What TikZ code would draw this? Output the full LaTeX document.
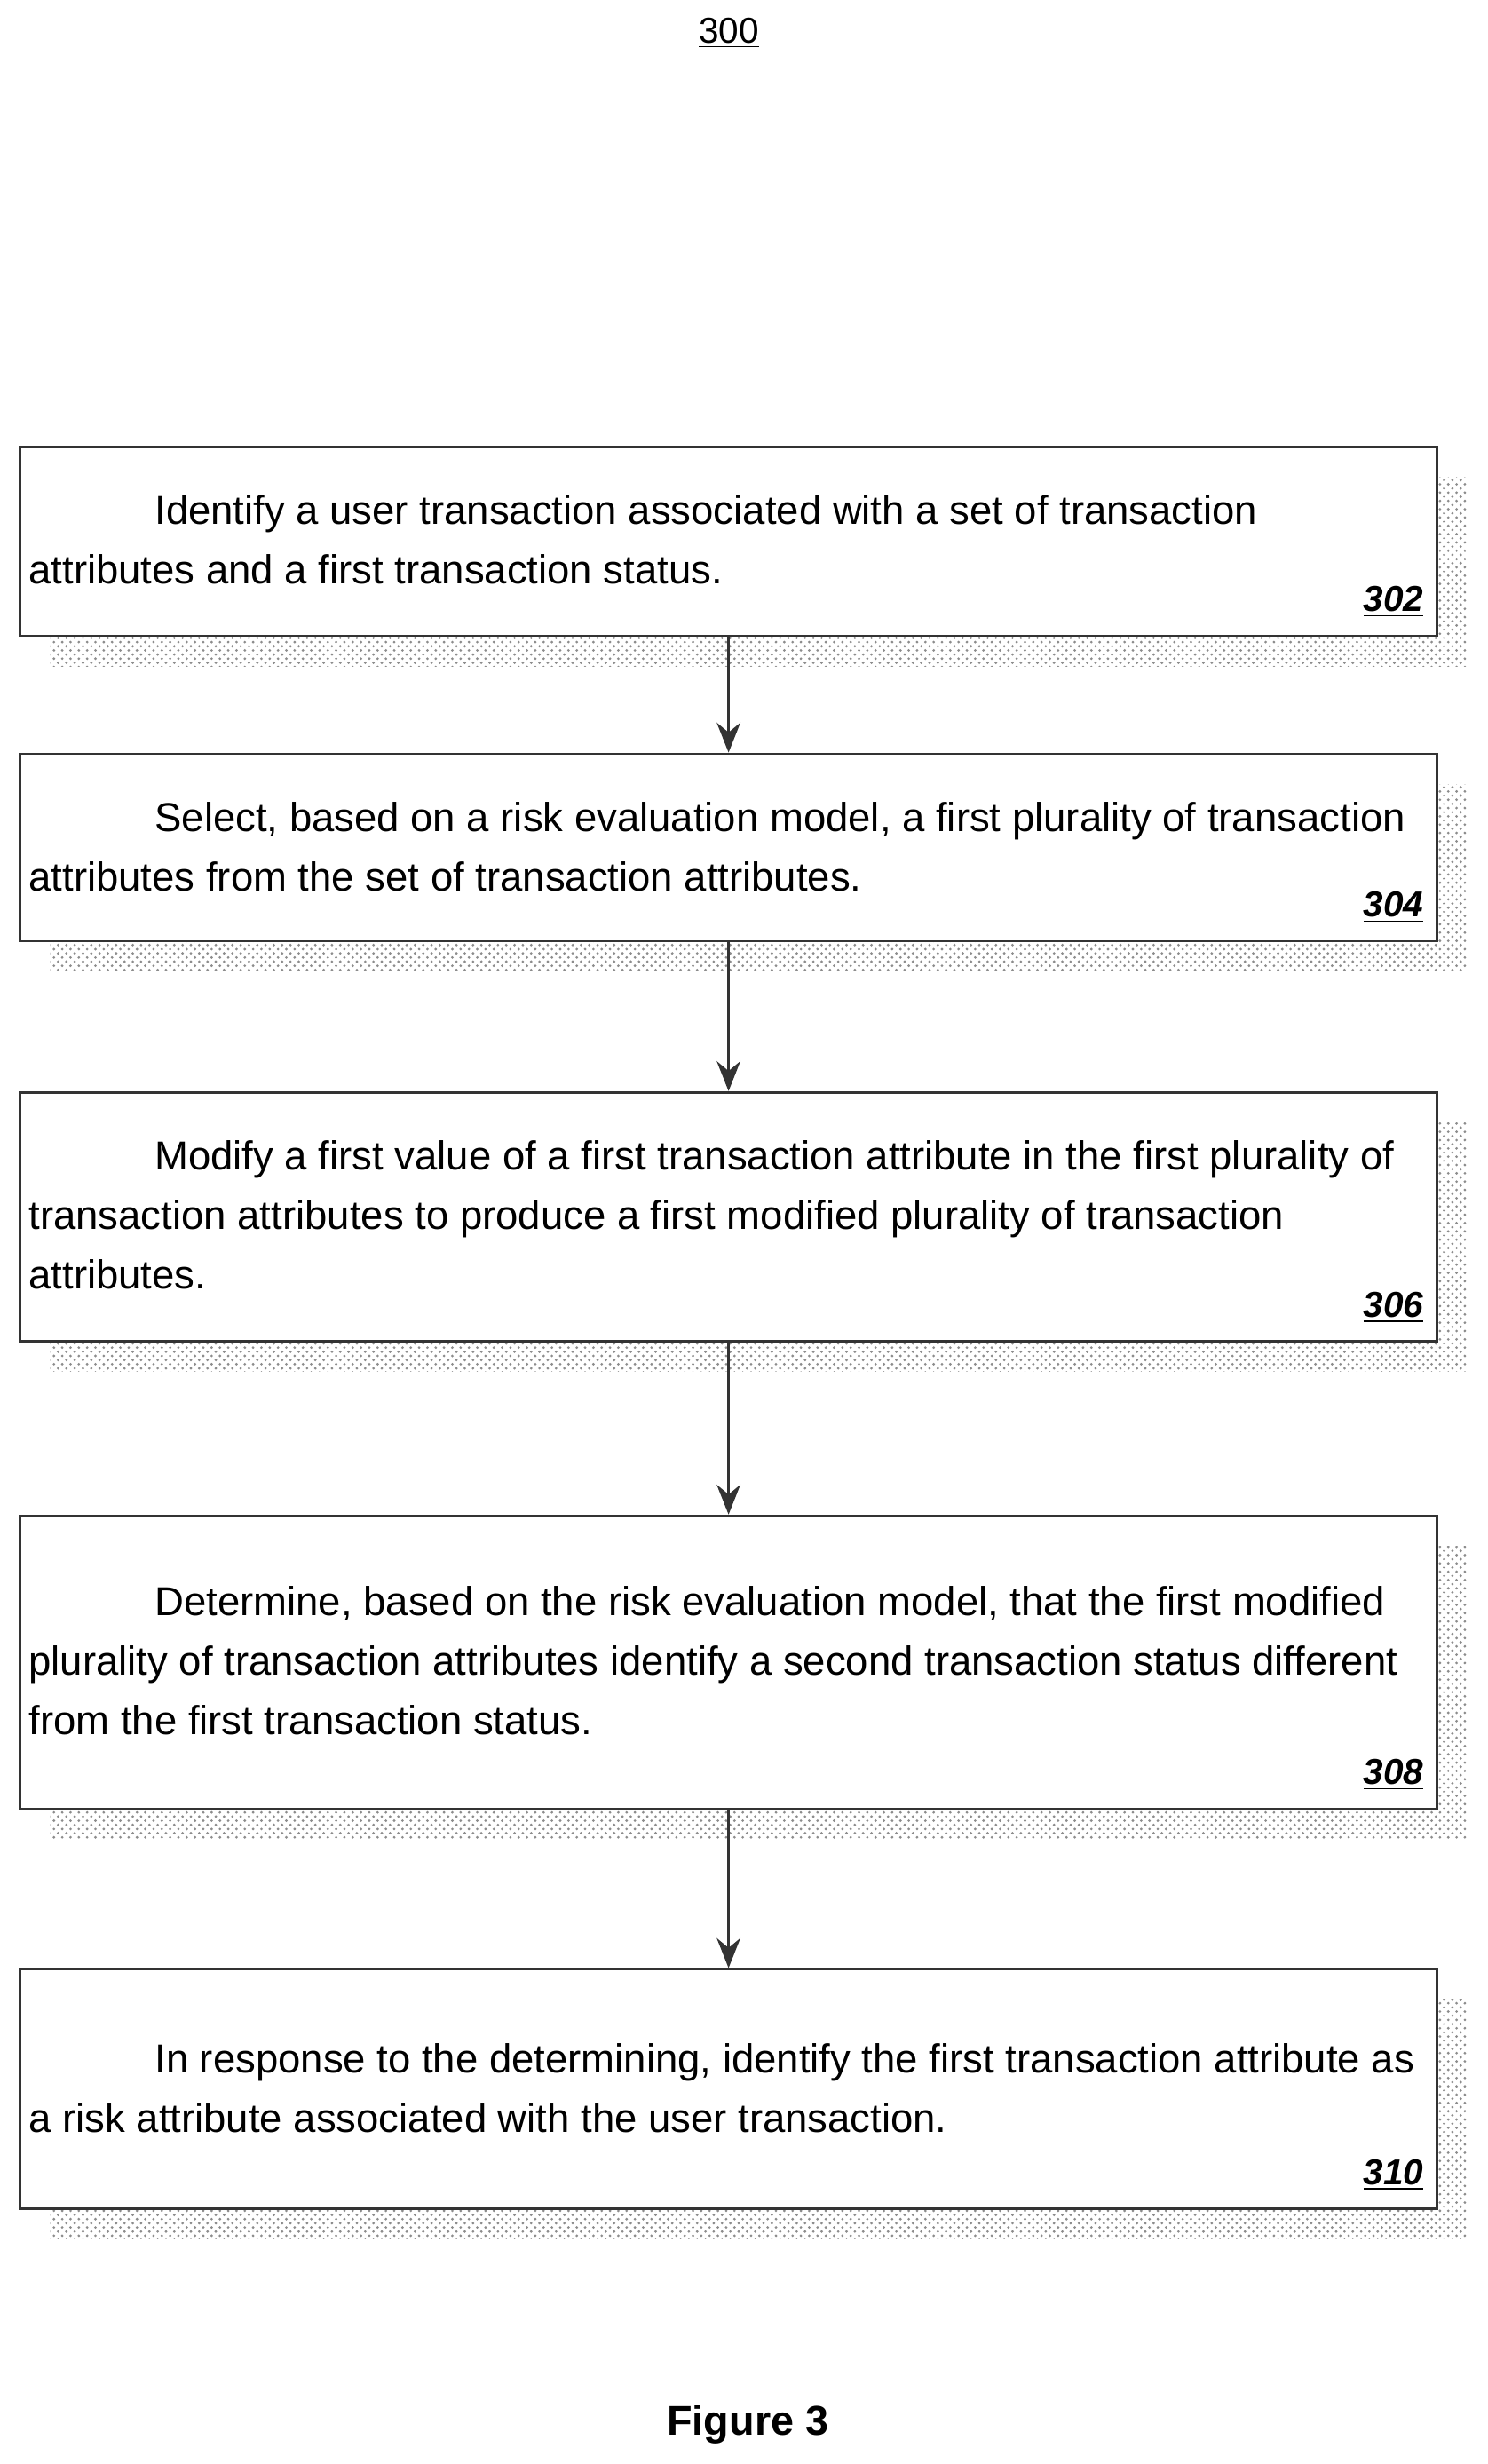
\documentclass[tikz,border=0pt]{standalone}
\usepackage{fontspec}
\setmainfont{Liberation Sans}
\usetikzlibrary{arrows.meta,patterns}

\tikzset{
  stepbox/.style={draw=black!80, line width=0.9pt, fill=white, anchor=north west, minimum width=18cm, inner sep=0pt},
  shadowbox/.style={pattern=crosshatch dots, pattern color=black!45, draw=none},
  steptext/.style={anchor=north west, align=left, inner sep=0pt,
    font=\fontsize{14.6}{21.5}\selectfont},
  stepnum/.style={anchor=south east, inner sep=0pt, font=\fontsize{13}{15}\selectfont\bfseries\itshape},
  flow/.style={-{Stealth[length=0.38cm, width=0.3cm]}, line width=0.9pt, black!80}
}

\newcommand{\stepnr}[1]{\underline{#1}}

\begin{document}
\begin{tikzpicture}
  \useasboundingbox (0,0) rectangle (18.9,-31.3);

  \node[font=\fontsize{13}{15}\selectfont] (title) at (9.26,-0.42) {\underline{300}};

  % shadows
  \fill[shadowbox] (0.64,-6.06) rectangle (18.64,-8.46);
  \fill[shadowbox] (0.64,-9.96) rectangle (18.64,-12.34);
  \fill[shadowbox] (0.64,-14.26) rectangle (18.64,-17.42);
  \fill[shadowbox] (0.64,-19.64) rectangle (18.64,-23.36);
  \fill[shadowbox] (0.64,-25.40) rectangle (18.64,-28.44);

  % boxes
  \node[stepbox, minimum height=2.4cm] (b302) at (0.24,-5.66) {};
  \node[stepbox, minimum height=2.38cm] (b304) at (0.24,-9.56) {};
  \node[stepbox, minimum height=3.16cm] (b306) at (0.24,-13.86) {};
  \node[stepbox, minimum height=3.72cm] (b308) at (0.24,-19.24) {};
  \node[stepbox, minimum height=3.04cm] (b310) at (0.24,-25.00) {};

  % texts
  \node[steptext] (t302) at ([shift={(0.12,-0.62)}]b302.north west)
    {\hspace*{1.6cm}Identify a user transaction associated with a set of transaction\\attributes and a first transaction status.};
  \node[steptext] (t304) at ([shift={(0.12,-0.62)}]b304.north west)
    {\hspace*{1.6cm}Select, based on a risk evaluation model, a first plurality of transaction\\attributes from the set of transaction attributes.};
  \node[steptext] (t306) at ([shift={(0.12,-0.62)}]b306.north west)
    {\hspace*{1.6cm}Modify a first value of a first transaction attribute in the first plurality of\\transaction attributes to produce a first modified plurality of transaction\\attributes.};
  \node[steptext] (t308) at ([shift={(0.12,-0.9)}]b308.north west)
    {\hspace*{1.6cm}Determine, based on the risk evaluation model, that the first modified\\plurality of transaction attributes identify a second transaction status different\\from the first transaction status.};
  \node[steptext] (t310) at ([shift={(0.12,-0.95)}]b310.north west)
    {\hspace*{1.6cm}In response to the determining, identify the first transaction attribute as\\a risk attribute associated with the user transaction.};

  % numbers
  \node[stepnum] (n302) at ([shift={(-0.18,0.24)}]b302.south east) {\stepnr{302}};
  \node[stepnum] (n304) at ([shift={(-0.18,0.24)}]b304.south east) {\stepnr{304}};
  \node[stepnum] (n306) at ([shift={(-0.18,0.24)}]b306.south east) {\stepnr{306}};
  \node[stepnum] (n308) at ([shift={(-0.18,0.24)}]b308.south east) {\stepnr{308}};
  \node[stepnum] (n310) at ([shift={(-0.18,0.24)}]b310.south east) {\stepnr{310}};

  % arrows
  \draw[flow] (b302.south) -- (b304.north);
  \draw[flow] (b304.south) -- (b306.north);
  \draw[flow] (b306.south) -- (b308.north);
  \draw[flow] (b308.south) -- (b310.north);

  \node[font=\fontsize{15}{18}\selectfont\bfseries] (fig) at (9.5,-30.8) {Figure 3};
\end{tikzpicture}
\end{document}
